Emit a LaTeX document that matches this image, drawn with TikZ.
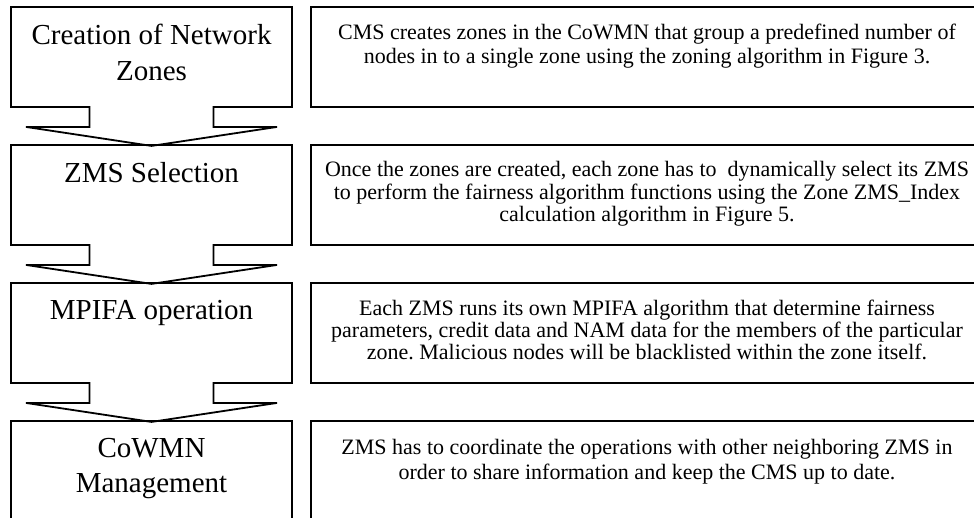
\documentclass[tikz,border=0pt]{standalone}
\usepackage{fontspec}
\setmainfont{Liberation Serif}
\usetikzlibrary{shapes.arrows,positioning}
\frenchspacing

\tikzset{
  stage/.style={arrow box, draw, line width=1.8pt, inner sep=0pt,
    minimum width=281pt, minimum height=100pt,
    arrow box north arrow=-1pt, arrow box east arrow=-1pt,
    arrow box west arrow=-1pt, arrow box south arrow=38pt,
    arrow box shaft width=124pt, arrow box head extend=63.5pt,
    arrow box head indent=0pt, arrow box tip angle=162.8},
  laststage/.style={rectangle, draw, line width=1.8pt, inner sep=0pt,
    minimum width=281pt, minimum height=110pt},
  infobox/.style={rectangle, draw, line width=1.8pt, inner sep=0pt,
    minimum width=672pt, minimum height=100pt},
  stagetext/.style={anchor=north, inner sep=0pt, align=center,
    font=\fontsize{29}{36}\selectfont},
  infotext/.style={anchor=north, inner sep=0pt, align=center,
    font=\fontsize{22}{22.5}\selectfont},
}

\begin{document}
\begin{tikzpicture}[x=1pt, y=-1pt]
    \useasboundingbox (0,0) rectangle (974,517);
    \clip (0,0) rectangle (974,517);

    % steps on the left
    \node[stage] (zones) at (151.5,57) {};
    \node[stage] (zms) at (151.5,195) {};
    \node[stage] (mpifa) at (151.5,333) {};
    \node[laststage] (mgmt) at (151.5,476) {};

    \node[stagetext] (zonestitle) at ([yshift=-18pt]zones.north) {Creation of Network\\Zones};
    \node[stagetext] (zmstitle) at ([yshift=-18pt]zms.north) {ZMS Selection};
    \node[stagetext] (mpifatitle) at ([yshift=-18pt]mpifa.north) {MPIFA operation};
    \node[stagetext, font=\fontsize{29}{35}\selectfont] (mgmttitle) at ([yshift=-18pt]mgmt.north) {CoWMN\\Management};

    % descriptions on the right
    \node[infobox] (zonesinfo) at (647,57) {};
    \node[infobox] (zmsinfo) at (647,195) {};
    \node[infobox] (mpifainfo) at (647,333) {};
    \node[infobox, minimum height=110pt] (mgmtinfo) at (647,476) {};

    \node[infotext, font=\fontsize{22}{24}\selectfont] (zonesdesc) at ([yshift=-18pt]zonesinfo.north)
        {CMS creates zones in the CoWMN that group a predefined number of\\nodes in to a single zone using the zoning algorithm in Figure 3.};
    \node[infotext] (zmsdesc) at ([yshift=-17pt]zmsinfo.north)
        {Once the zones are created, each zone has to~ dynamically select its ZMS\\to perform the fairness algorithm functions using the Zone ZMS\_Index\\calculation algorithm in Figure 5.};
    \node[infotext, font=\fontsize{22}{22}\selectfont] (mpifadesc) at ([yshift=-18pt]mpifainfo.north)
        {Each ZMS runs its own MPIFA algorithm that determine fairness\\parameters, credit data and NAM data for the members of the particular\\zone. Malicious nodes will be blacklisted within the zone itself.};
    \node[infotext, font=\fontsize{22}{25}\selectfont] (mgmtdesc) at ([yshift=-19pt]mgmtinfo.north)
        {ZMS has to coordinate the operations with other neighboring ZMS in\\order to share information and keep the CMS up to date.};
\end{tikzpicture}
\end{document}
